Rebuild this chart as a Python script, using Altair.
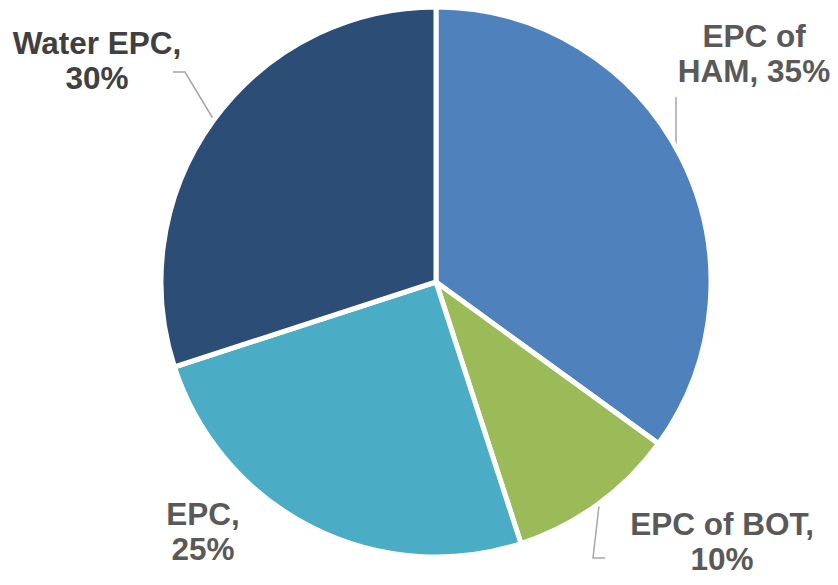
import altair as alt
import pandas as pd

categories = ["EPC of HAM", "EPC of BOT", "EPC", "Water EPC"]
shares = [35, 10, 25, 30]
colors = ["#4F81BD", "#9BBB59", "#4BACC6", "#2C4D76"]

# data labels (two lines each), first-line positions in chart pixels
label_text = ["EPC of\nHAM, 35%", "EPC of BOT,\n10%", "EPC,\n25%", "Water EPC,\n30%"]
label_x = [746, 714, 195, 89]
label_y = [30, 518, 508, 37]
label_color = ["#595959", "#595959", "#595959", "#404040"]

# leader lines (paths)
leader_id = [0, 0, 1, 1, 1, 2, 2, 2]
leader_x = [668, 668, 597, 585, 592, 165, 177, 207]
leader_y = [89, 146, 550, 550, 489, 64, 64, 114]
leader_ord = [0, 1, 0, 1, 2, 0, 1, 2]

pie_df = pd.DataFrame({"cat": categories, "share": shares, "order": list(range(len(categories)))})

pie = alt.Chart(pie_df).mark_arc(
    outerRadius=275, stroke="white", strokeWidth=5
).encode(
    theta=alt.Theta("share:Q", stack=True),
    order=alt.Order("order:Q"),
    color=alt.Color("cat:N", scale=alt.Scale(domain=categories, range=colors), legend=None),
    x=alt.value(428),
    y=alt.value(274),
)

lab_df = pd.DataFrame({"t": label_text, "x": label_x, "y": label_y, "c": label_color})
labels = alt.Chart(lab_df).mark_text(
    font="Liberation Sans", fontSize=31.5, fontWeight="bold", align="center",
    baseline="middle", lineBreak="\n", lineHeight=34.5
).encode(
    x=alt.X("x:Q", scale=None),
    y=alt.Y("y:Q", scale=None),
    text="t:N",
    color=alt.Color("c:N", scale=None),
)

lead_df = pd.DataFrame({"id": leader_id, "x": leader_x, "y": leader_y, "o": leader_ord})
leaders = alt.Chart(lead_df).mark_line(color="#A6A6A6", strokeWidth=1.5).encode(
    x=alt.X("x:Q", scale=None),
    y=alt.Y("y:Q", scale=None),
    detail="id:N",
    order="o:Q",
)

chart = alt.layer(leaders, pie, labels).properties(
    width=822, height=569, padding=0, autosize=alt.AutoSizeParams(type="none")
).configure_view(stroke=None)

chart.save("out.html", embed_options={"renderer": "svg", "actions": False})
